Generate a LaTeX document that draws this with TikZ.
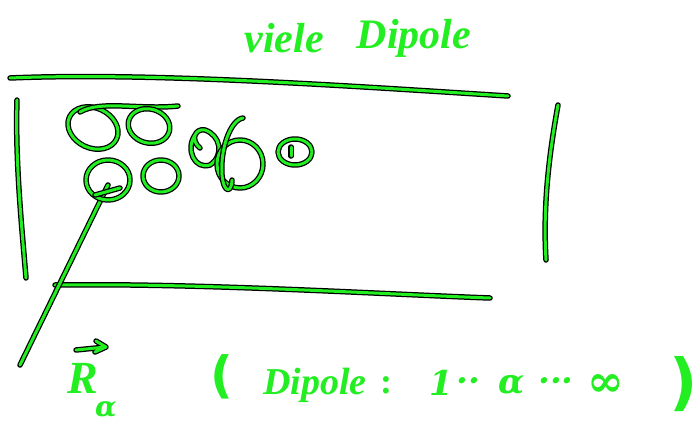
\documentclass[tikz,border=0pt]{standalone}
\usepackage{fontspec}
\setmainfont{Liberation Serif}
\newfontfamily\symfont{DejaVu Serif}
\newfontfamily\parfont{DejaVu Sans}
\definecolor{ink}{HTML}{22EE22}
\tikzset{
  inkline/.style={preaction={draw=black,line width=5.5pt,line cap=round,line join=round},
    draw=ink,line width=3pt,line cap=round,line join=round},
  inktext/.style={text=ink,inner sep=0pt},
  titletext/.style={inktext,font=\itshape\bfseries\fontsize{42}{44}\selectfont},
  rangetext/.style={inktext,font=\symfont\itshape\bfseries\fontsize{34}{36}\selectfont}
}
\begin{document}
\begin{tikzpicture}[x=1pt,y=-1pt]
\useasboundingbox (0,0) rectangle (700,428);
% title
\node[titletext] (viele) at (284,38) {viele};
\node[titletext] (dipt) at (414,38) {Dipole};
% frame lines
\coordinate (tl) at (10,78);
\coordinate (tr) at (508,96);
\draw[inkline] (tl) .. controls (150,72) and (350,86) .. (tr);
\coordinate (lt) at (17,100);
\coordinate (lb) at (26,278);
\draw[inkline] (lt) .. controls (15,160) and (22,230) .. (lb);
\coordinate (rt) at (558,105);
\coordinate (rb) at (546,260);
\draw[inkline] (rt) .. controls (548,160) and (543,210) .. (rb);
\coordinate (bl) at (55,285);
\coordinate (br) at (490,298);
\draw[inkline] (bl) .. controls (200,283) and (380,294) .. (br);
% diagonal
\coordinate (d1) at (20,365);
\coordinate (d2) at (108,185);
\draw[inkline] (d1) -- (d2);
% dipoles
\draw[inkline] (93,128) ellipse [x radius=26, y radius=20, rotate=-25];
\draw[inkline] (80,112) .. controls (100,100) and (140,110) .. (178,106);
\draw[inkline] (149,126) ellipse [x radius=21, y radius=17, rotate=-15];
\draw[inkline] (195,135) .. controls (185,150) and (195,170) .. (210,165) .. controls (225,155) and (220,135) .. (205,130) .. controls (195,128) and (190,140) .. (200,148);
\draw[inkline] (240,164) ellipse [x radius=23, y radius=24];
\draw[inkline] (243,118) .. controls (230,120) and (220,150) .. (222,175) .. controls (224,195) and (232,192) .. (232,180);
\draw[inkline] (295,152) ellipse [x radius=17, y radius=13];
\draw[inkline] (291,147) -- (291,156);
\draw[inkline] (108,180) ellipse [x radius=22, y radius=20];
\draw[inkline] (95,195) -- (120,188);
\draw[inkline] (161,176) ellipse [x radius=18, y radius=16];
% bottom text
\node[inktext,font=\itshape\bfseries\fontsize{46}{48}\selectfont] (R) at (83,378) {R};
\node[inktext,font=\symfont\itshape\bfseries\fontsize{28}{30}\selectfont] (a) at (106,410) {α};
\coordinate (va) at (76,350);
\coordinate (vb) at (106,347);
\draw[inkline] (va) -- (vb) (96,341) -- (vb) -- (95,352);
\node[inktext,font=\parfont\bfseries\fontsize{50}{52}\selectfont] (lp) at (222,377) {(};
\node[inktext,font=\itshape\bfseries\fontsize{38}{40}\selectfont] (dip) at (315,385) {Dipole};
\node[inktext,font=\bfseries\fontsize{36}{38}\selectfont] (colon) at (386,385) {:};
\node[rangetext] (one) at (441,383) {1};
\node[rangetext] (d1) at (468,385) {··};
\node[rangetext] (al) at (512,385) {α};
\node[rangetext] (d2) at (556,385) {···};
\node[rangetext,font=\symfont\bfseries\fontsize{44}{46}\selectfont] (inf) at (606,386) {∞};
\node[inktext,font=\parfont\bfseries\fontsize{62}{64}\selectfont] (rp) at (684,384) {)};
\end{tikzpicture}
\end{document}
